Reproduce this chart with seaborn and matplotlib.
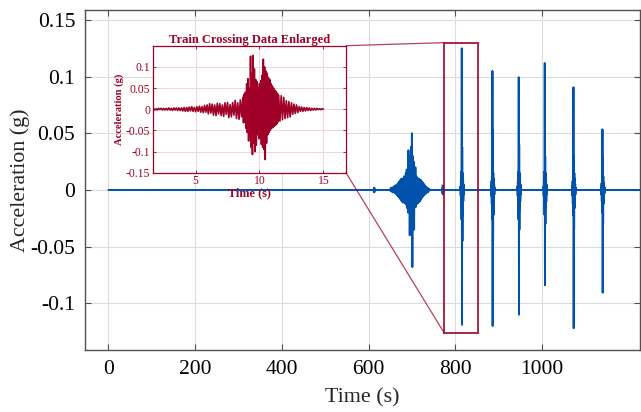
import numpy as np
import pandas as pd
import matplotlib
matplotlib.use("Agg")
import matplotlib.pyplot as plt
from matplotlib.patches import Rectangle, ConnectionPatch
import seaborn as sns

# ---------------- data ----------------
# main record: event start times (s), sample step (s) and signed sample values (g)
burst_start = 650.0
burst_step = 1.0
burst_values = [0.001, -0.001, 0.002, -0.001, 0.002, -0.002, 0.002, -0.002, 0.003, -0.002,
                0.003, -0.003, 0.004, -0.003, 0.004,
                -0.004, 0.005, -0.005, 0.006, -0.006, 0.007, -0.007, 0.008, -0.008, 0.009,
                -0.009, 0.010, -0.010, 0.010, -0.011,
                0.010, -0.011, 0.012, -0.010, 0.011, -0.012, 0.015, -0.013, 0.018, -0.016,
                0.012, -0.020, 0.035, -0.015, 0.022, -0.040, 0.030, -0.025, 0.038, -0.030,
                0.050, -0.068, 0.030, -0.020, 0.025, -0.035, 0.015, -0.012, 0.020, -0.015,
                0.012, -0.012, 0.011, -0.012, 0.010, -0.011, 0.010, -0.010, 0.009, -0.010,
                0.009, -0.008, 0.008, -0.007, 0.007, -0.006, 0.006, -0.005, 0.005, -0.004,
                0.004, -0.003, 0.003, -0.003, 0.002, -0.002, 0.002, -0.002, 0.001, -0.001, 0.001]

spike_starts = [612.0, 770.0, 812.0, 882.7, 943.4, 1003.4, 1069.6, 1136.5]
spike_step = 0.5
spike_values = [
    [0.001, -0.002, 0.002, -0.002, 0.001],
    [0.001, -0.003, 0.004, -0.004, 0.003, -0.002],
    [0.003, -0.005, 0.008, -0.012, 0.016, -0.026, 0.125, -0.119, 0.038, -0.045, 0.015,
     -0.022, 0.010, -0.010, 0.005, -0.004, 0.002],
    [0.003, -0.005, 0.008, -0.012, 0.016, -0.026, 0.105, -0.120, 0.053, -0.045, 0.015,
     -0.022, 0.010, -0.010, 0.005, -0.004, 0.002],
    [0.003, -0.005, 0.008, -0.012, 0.016, -0.026, 0.0995, -0.110, 0.040, -0.035, 0.015,
     -0.018, 0.010, -0.010, 0.005, -0.004, 0.002],
    [0.003, -0.005, 0.008, -0.012, 0.016, -0.022, 0.112, -0.084, 0.030, -0.030, 0.015,
     -0.016, 0.010, -0.010, 0.005, -0.004, 0.002],
    [0.003, -0.005, 0.008, -0.012, 0.016, -0.022, 0.0906, -0.122, 0.030, -0.035, 0.015,
     -0.016, 0.010, -0.010, 0.005, -0.004, 0.002],
    [0.003, -0.004, 0.006, -0.010, 0.015, -0.020, 0.0535, -0.0906, 0.030, -0.030, 0.012,
     -0.012, 0.006, -0.006, 0.003, -0.003, 0.002, -0.002, 0.001],
]
record_start = 0.0
record_end = 1226.0

# inset: train crossing record in three sampled pieces (start s, step s, values g)
inset_pre_start, inset_pre_step = 1.7, 0.1
inset_pre_values = [
    0.002, -0.002, 0.001, -0.002, 0.002, -0.001, 0.002, -0.002, 0.002, -0.002,
    0.002, -0.002, 0.003, -0.002, 0.002, -0.003, 0.003, -0.002, 0.003, -0.003,
    0.003, -0.003, 0.003,
    -0.004, 0.004, -0.005, 0.004, -0.005, 0.005, -0.004, 0.006, -0.005, 0.004,
    -0.006, 0.006, -0.005, 0.007, -0.007, 0.006, -0.008, 0.009, -0.007, 0.010,
    -0.011, 0.013, -0.009, 0.012, -0.014, 0.010, -0.015, 0.014, -0.011, 0.013,
    -0.015, 0.010, -0.017, 0.015, -0.012, 0.016, -0.020, 0.011, -0.018, 0.016,
    -0.014, 0.021, -0.022, 0.015, -0.024, 0.022, -0.018,
]
inset_core_start, inset_core_step = 8.7, 0.05
inset_core_values = [
    0.028, -0.032, 0.035, -0.030, 0.040, -0.045,
    0.060, -0.055, 0.072, -0.075, 0.050, -0.065,
    0.125, -0.090, 0.085, -0.107, 0.127, -0.080,
    0.095, -0.100, 0.070, -0.085, 0.065, -0.060,
    0.050, -0.070, 0.060, -0.065, 0.067, -0.083,
    0.080, -0.090, 0.118, -0.095, 0.100, -0.119,
    0.090, -0.080, 0.085, -0.060, 0.075, -0.055,
    0.070, -0.050, 0.060, -0.045, 0.055, -0.043,
    0.050, -0.040, 0.045, -0.038, 0.042, -0.035,
    0.038, -0.030, 0.033,
]
inset_post_start, inset_post_step = 11.6, 0.1
inset_post_values = [
    -0.028, 0.032, -0.025, 0.028, -0.022,
    0.020, -0.020, 0.018, -0.018, 0.015,
    -0.012, 0.012, -0.010, 0.010, -0.008,
    0.006, -0.005, 0.005, -0.005, 0.004, -0.004, 0.004, -0.003, 0.003, -0.003,
    0.002, -0.002, 0.002, -0.002, 0.002, -0.001, 0.001, -0.001, 0.001, 0.0,
]

# ---------------- build tables ----------------
events = [(burst_start, burst_step, burst_values)] + \
         [(s, spike_step, v) for s, v in zip(spike_starts, spike_values)]
events.sort(key=lambda e: e[0])
t_list = [record_start]
a_list = [0.0]
for start, step, vals in events:
    t_list.append(start - step)
    a_list.append(0.0)
    for i, v in enumerate(vals):
        t_list.append(start + i * step)
        a_list.append(v)
    t_list.append(start + len(vals) * step)
    a_list.append(0.0)
t_list.append(record_end)
a_list.append(0.0)
main_df = pd.DataFrame({"t": t_list, "a": a_list})

it, ia = [], []
for start, step, vals in [(inset_pre_start, inset_pre_step, inset_pre_values),
                          (inset_core_start, inset_core_step, inset_core_values),
                          (inset_post_start, inset_post_step, inset_post_values)]:
    for i, v in enumerate(vals):
        it.append(start + i * step)
        ia.append(v)
inset_df = pd.DataFrame({"t": it, "a": ia})

# ---------------- style ----------------
sns.set_style("ticks")
plt.rcParams["font.family"] = ["Liberation Serif", "DejaVu Serif"]
plt.rcParams["axes.unicode_minus"] = False

BLUE = "#0052AC"
RED = "#A00028"
SPINE = "#505050"

fig = plt.figure(figsize=(6.41, 4.12), dpi=100)
ax = fig.add_axes([0.1326, 0.1505, 0.8658, 0.8252])

sns.lineplot(data=main_df, x="t", y="a", ax=ax, color=BLUE, linewidth=1.4,
             estimator=None, sort=False)
ax.set_xlim(-54, 1226)
ax.set_ylim(-0.1412, 0.1588)
ax.set_xticks([0, 200, 400, 600, 800, 1000])
ax.set_yticks([-0.1, -0.05, 0, 0.05, 0.1, 0.15])
ax.set_yticklabels(["-0.1", "-0.05", "0", "0.05", "0.1", "0.15"])
ax.grid(True, color="#dcdcdc", linewidth=0.8)
ax.set_axisbelow(True)
for s in ax.spines.values():
    s.set_visible(True)
    s.set_color(SPINE)
    s.set_linewidth(1.0)
ax.tick_params(direction="in", length=4, width=0.8, color=SPINE,
               top=True, right=True, labelsize=15.5, pad=7, labelcolor="black")
ax.set_xlabel("Time (s)", fontsize=15.8, labelpad=7)
ax.set_ylabel("Acceleration (g)", fontsize=15.8, labelpad=0)

# zoom rectangle
rx0, rx1, ry0, ry1 = 775, 853.5, -0.1265, 0.130
ax.add_patch(Rectangle((rx0, ry0), rx1 - rx0, ry1 - ry0, fill=False,
                       edgecolor=RED, linewidth=1.4, alpha=0.85, zorder=5))

# inset
axi = fig.add_axes([0.2387, 0.5808, 0.3011, 0.3083])
axi.set_facecolor("white")
sns.lineplot(data=inset_df, x="t", y="a", ax=axi, color=RED, linewidth=1.2,
             estimator=None, sort=False)
axi.set_xlim(1.67, 16.77)
axi.set_ylim(-0.15, 0.15)
axi.set_xticks([5, 10, 15])
axi.set_yticks([-0.15, -0.1, -0.05, 0, 0.05, 0.1])
axi.set_yticklabels(["-0.15", "-0.1", "-0.05", "0", "0.05", "0.1"])
axi.grid(True, color="#f0d4da", linewidth=0.7)
axi.set_axisbelow(True)
for s in axi.spines.values():
    s.set_visible(True)
    s.set_color(RED)
    s.set_linewidth(0.9)
axi.tick_params(direction="in", length=2.5, width=0.6, color=RED,
                top=True, right=True, labelsize=8.4, pad=2, labelcolor=RED)
axi.set_xlabel("Time (s)", fontsize=8.8, fontweight="bold", color=RED, labelpad=0)
axi.set_ylabel("Acceleration (g)", fontsize=7.6, fontweight="bold", color=RED, labelpad=1)
axi.set_title("Train Crossing Data Enlarged", fontsize=9, fontweight="bold",
              color=RED, pad=2)

# connectors
for ya, yb in [(1, ry1), (0, ry0)]:
    con = ConnectionPatch(xyA=(1, ya), coordsA=axi.transAxes,
                          xyB=(rx0, yb), coordsB=ax.transData,
                          color=RED, linewidth=0.9, alpha=0.75)
    fig.add_artist(con)

fig.savefig("out.png", dpi=100)
